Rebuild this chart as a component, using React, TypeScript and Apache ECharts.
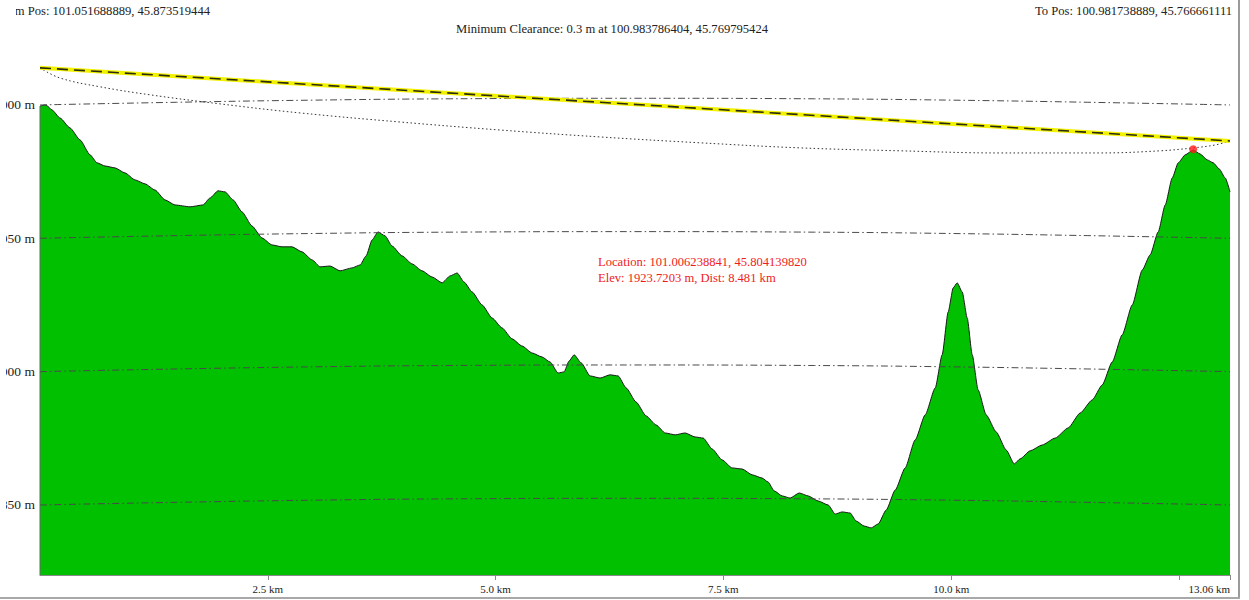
import React, { useEffect, useRef } from "react";
import * as echarts from "echarts";

// ---- data ----
const totalDist = 13.06; // km
const yMin = 1823.75;
const yMax = 2024.35;

const terrainDist = [
  0.0, 0.066, 0.132, 0.22, 0.329, 0.439, 0.549, 0.626, 0.714, 0.823, 0.933, 1.043, 1.153, 1.262, 1.372, 1.482,
  1.647, 1.789, 1.866, 1.954, 2.031, 2.119, 2.217, 2.327, 2.437, 2.547, 2.656, 2.766, 2.876, 2.986, 3.074,
  3.183, 3.293, 3.425, 3.513, 3.579, 3.645, 3.71, 3.787, 3.864, 3.974, 4.084, 4.193, 4.303, 4.413, 4.501,
  4.578, 4.654, 4.742, 4.852, 4.962, 5.071, 5.181, 5.291, 5.401, 5.51, 5.598, 5.686, 5.752, 5.807, 5.862,
  5.939, 6.037, 6.147, 6.257, 6.345, 6.433, 6.542, 6.652, 6.762, 6.861, 6.971, 7.08, 7.19, 7.278, 7.377,
  7.486, 7.596, 7.706, 7.816, 7.925, 7.991, 8.057, 8.145, 8.233, 8.332, 8.431, 8.54, 8.65, 8.727, 8.804,
  8.891, 8.957, 9.045, 9.122, 9.199, 9.287, 9.386, 9.495, 9.605, 9.715, 9.825, 9.901, 9.967, 10.022,
  10.066, 10.121, 10.176, 10.231, 10.296, 10.384, 10.494, 10.604, 10.692, 10.757, 10.867, 10.999, 11.142,
  11.284, 11.416, 11.548, 11.658, 11.767, 11.877, 11.987, 12.097, 12.184, 12.272, 12.349, 12.426, 12.492,
  12.569, 12.656, 12.733, 12.81, 12.876, 12.942, 13.008, 13.06,
];
const terrainElev = [
  1999.6, 2000.0, 1998.1, 1995.1, 1991.4, 1986.9, 1981.3, 1978.3, 1977.1, 1976.4, 1974.5, 1971.9, 1970.4,
  1968.1, 1964.4, 1962.5, 1961.8, 1962.5, 1965.1, 1967.8, 1967.4, 1964.4, 1959.9, 1954.6, 1950.1, 1947.5,
  1946.8, 1946.8, 1944.9, 1941.9, 1939.3, 1939.6, 1937.8, 1938.9, 1940.0, 1943.4, 1949.4, 1952.4, 1950.9,
  1947.1, 1943.4, 1940.4, 1937.8, 1935.5, 1933.3, 1935.9, 1937.0, 1933.6, 1929.9, 1925.0, 1920.1, 1916.4,
  1912.3, 1909.6, 1907.0, 1905.5, 1903.6, 1899.5, 1899.9, 1904.0, 1906.3, 1903.3, 1898.4, 1897.6, 1898.8,
  1898.4, 1893.9, 1888.6, 1883.4, 1880.0, 1877.0, 1876.3, 1877.0, 1875.5, 1875.1, 1871.0, 1866.9, 1863.9,
  1863.5, 1861.3, 1860.1, 1858.6, 1855.3, 1853.4, 1852.6, 1854.5, 1853.4, 1851.5, 1850.0, 1846.6, 1847.4,
  1847.0, 1844.0, 1842.1, 1841.4, 1842.9, 1848.1, 1855.6, 1863.9, 1874.4, 1883.8, 1893.9, 1906.3, 1922.4,
  1931.4, 1933.3, 1929.9, 1920.1, 1906.3, 1893.1, 1883.8, 1877.4, 1870.6, 1865.4, 1867.3, 1870.3, 1872.5,
  1875.1, 1878.9, 1884.5, 1889.4, 1895.0, 1903.6, 1913.8, 1925.0, 1938.1, 1943.8, 1952.4, 1962.5, 1972.6,
  1978.3, 1981.3, 1983.1, 1981.6, 1979.4, 1978.3, 1976.0, 1972.6, 1967.4,
];

// lower edge of the Fresnel zone (dotted curve)
const fresnelDist = [0, 0.22, 0.659, 1.207, 1.976, 2.854, 3.952, 5.049, 6.147, 7.245, 8.343, 9.44, 10.538, 11.636, 12.294, 12.656, 12.898, 13.06];
const fresnelElev = [2013.9, 2010.1, 2006.8, 2003.8, 2000.4, 1997.0, 1993.6, 1990.6, 1988.0, 1985.8, 1983.9, 1982.8, 1982.0, 1982.0, 1982.8, 1983.9, 1985.0, 1986.5];

// line of sight
const losDist = [0, 13.06];
const losElev = [2013.9, 1986.5];

// elevation grid lines (bent by the earth curvature)
const gridLevels = [1850, 1900, 1950, 2000];
const curveDist = [0, 1.5, 3.0, 4.5, 6.53, 8.5, 10.0, 11.5, 13.06];
const curveBulge = [0, 1.0, 1.8, 2.3, 2.5, 2.3, 1.8, 1.0, 0];

// point of minimum clearance
const minPointDist = 12.656;
const minPointElev = 1983.4;

const xTickStep = 2.5;

const fromPos = "From Pos: 101.051688889, 45.873519444";
const toPos = "To Pos: 100.981738889, 45.766661111";
const clearanceText = "Minimum Clearance: 0.3 m at 100.983786404, 45.769795424";
const locationText = "Location: 101.006238841, 45.804139820";
const elevText = "Elev: 1923.7203 m, Dist: 8.481 km";

const FONT = "'Liberation Serif', 'Times New Roman', serif";

export default function App() {
  const ref = useRef<HTMLDivElement>(null);

  useEffect(() => {
    if (!ref.current) return;
    const chart = echarts.init(ref.current, null, { renderer: "svg" });

    const zip = (a: number[], b: number[]) => a.map((v, i) => [v, b[i]]);

    const gridSeries = gridLevels.map((lvl) => ({
      type: "line",
      data: curveDist.map((d, i) => [d, lvl + curveBulge[i]]),
      smooth: true,
      symbol: "none",
      silent: true,
      z: 3,
      lineStyle: { color: "#4a4a4a", width: 1, type: [7, 3, 1.5, 3] },
    }));

    const option: any = {
      animation: false,
      backgroundColor: "#ffffff",
      grid: { left: 40, right: 19, top: 40, bottom: 25, containLabel: false, outerBoundsMode: "none" },
      xAxis: {
        type: "value",
        min: 0,
        max: totalDist,
        interval: xTickStep,
        axisLine: { show: true, lineStyle: { color: "#8a8a8a", width: 1 } },
        axisTick: { show: true, length: 5, lineStyle: { color: "#8a8a8a" } },
        splitLine: { show: false },
        axisLabel: {
          fontFamily: FONT,
          fontSize: 11,
          color: "#222",
          margin: 8,
          showMinLabel: false,
          showMaxLabel: true,
          hideOverlap: false,
          alignMaxLabel: "right",
          formatter: (v: number) => {
            if (Math.abs(v - totalDist) < 1e-6) return totalDist.toFixed(2) + " km";
            if (v === 0 || v > totalDist - 1) return "";
            return v.toFixed(1) + " km";
          },
        },
      },
      yAxis: {
        type: "value",
        min: yMin,
        max: yMax,
        axisLine: { show: false },
        axisTick: { show: false },
        splitLine: { show: false },
        axisLabel: {
          customValues: gridLevels,
          formatter: (v: number) => String(Math.round(v)) + " m",
          fontFamily: FONT,
          fontSize: 13.5,
          color: "#222",
          margin: 5,
        },
      },
      series: [
        {
          type: "line",
          data: zip(terrainDist, terrainElev),
          symbol: "none",
          smooth: 0.2,
          smoothMonotone: "x",
          z: 1,
          lineStyle: { color: "#1b1b1b", width: 1 },
          areaStyle: { color: "#00c000", opacity: 1, origin: "start" },
        },
        {
          type: "line",
          data: [
            [terrainDist[0], yMin],
            [terrainDist[0], terrainElev[0]],
          ],
          symbol: "none",
          z: 2,
          lineStyle: { color: "#666", width: 1 },
        },
        ...gridSeries,
        {
          type: "line",
          data: zip(fresnelDist, fresnelElev),
          smooth: 0.4,
          symbol: "none",
          z: 4,
          lineStyle: { color: "#333", width: 1, type: [1.5, 2.5] },
        },
        {
          type: "line",
          data: zip(losDist, losElev),
          symbol: "none",
          z: 5,
          lineStyle: { color: "#f2f200", width: 4 },
        },
        {
          type: "line",
          data: zip(losDist, losElev),
          symbol: "none",
          z: 6,
          lineStyle: { color: "#2a2a10", width: 1.6, type: [11, 6] },
        },
        {
          type: "scatter",
          data: [[minPointDist, minPointElev]],
          symbol: "circle",
          symbolSize: 8,
          z: 7,
          itemStyle: { color: "#ff1a1a" },
        },
      ],
      graphic: [
        {
          type: "text",
          x: 210,
          y: 11,
          z: 10,
          style: { text: fromPos, font: `12.6px ${FONT}`, fill: "#222", textAlign: "right", textVerticalAlign: "middle" },
        },
        {
          type: "rect",
          z: 11,
          shape: { x: 0, y: 0, width: 16, height: 22 },
          style: { fill: "#ffffff" },
        },
        {
          type: "rect",
          z: 11,
          shape: { x: 0, y: 22, width: 6, height: 575 },
          style: { fill: "#ffffff" },
        },
        {
          type: "text",
          x: 1035,
          y: 11,
          z: 10,
          style: { text: toPos, font: `12.6px ${FONT}`, fill: "#222", textAlign: "left", textVerticalAlign: "middle" },
        },
        {
          type: "text",
          x: 612,
          y: 29,
          z: 10,
          style: { text: clearanceText, font: `12.6px ${FONT}`, fill: "#222", textAlign: "center", textVerticalAlign: "middle" },
        },
        {
          type: "text",
          x: 598,
          y: 262,
          z: 10,
          style: { text: locationText, font: `12.6px ${FONT}`, fill: "#f01c1c", textAlign: "left", textVerticalAlign: "middle" },
        },
        {
          type: "text",
          x: 598,
          y: 278,
          z: 10,
          style: { text: elevText, font: `12.6px ${FONT}`, fill: "#f01c1c", textAlign: "left", textVerticalAlign: "middle" },
        },
        {
          type: "rect",
          z: 12,
          shape: { x: 1238, y: 0, width: 2, height: 599 },
          style: { fill: "#9a9a9a" },
        },
        {
          type: "rect",
          z: 12,
          shape: { x: 0, y: 597, width: 1240, height: 2 },
          style: { fill: "#a8a8a8" },
        },
      ],
    };

    chart.setOption(option);
    return () => chart.dispose();
  }, []);

  return (
    <div
      ref={ref}
      style={{ position: "fixed", left: 0, top: 0, width: 1249, height: 600, background: "#fff" }}
    />
  );
}
